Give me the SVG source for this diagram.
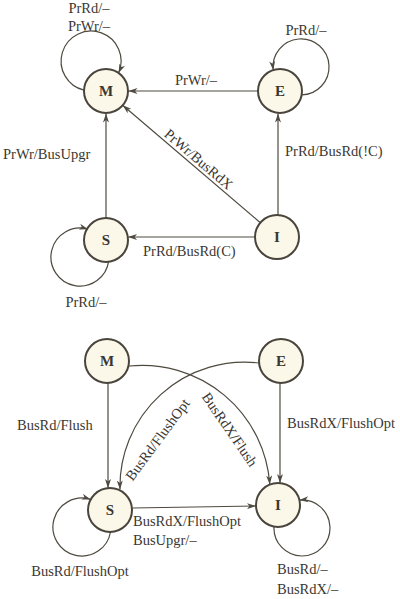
<svg xmlns="http://www.w3.org/2000/svg" width="400" height="599" viewBox="0 0 400 599">
<style>
.node circle{fill:#fbf8e9;stroke:#4a453c;stroke-width:2}
.node text{font-family:"Liberation Serif",serif;font-weight:bold;font-size:15px;fill:#3a3732;text-anchor:middle}
.edge{fill:none;stroke:#4f4a40;stroke-width:1.2;marker-end:url(#arr)}
.lbl{font-family:"Liberation Serif",serif;font-size:14.5px;fill:#3a3732}
.mid{text-anchor:middle}
</style>
<defs>
<marker id="arr" viewBox="0 0 9 6" refX="9" refY="3" markerWidth="9" markerHeight="6" markerUnits="userSpaceOnUse" orient="auto">
<path d="M0,0 L9,3 L0,6 L2.5,3 z" fill="#4f4a40"/>
</marker>
</defs>
<rect width="400" height="599" fill="#ffffff"/>
<g id="connectors">
<path class="edge" d="M258,91 L128.5,91"/>
<path class="edge" d="M106,218 L106,113.5"/>
<path class="edge" d="M260.3,222.7 L122.7,105.3"/>
<path class="edge" d="M278,215 L278,113.5"/>
<path class="edge" d="M255,237 L128,237"/>
<path class="edge" d="M84,90.2 A30,30 0 1 1 118.6,73"/>
<path class="edge" d="M301.6,94.9 A28,28 0 1 0 273.2,70.1"/>
<path class="edge" d="M108.7,260.8 A29,29 0 1 1 88.1,229.2"/>
<path class="edge" d="M108,383 L108,488.1"/>
<path class="edge" d="M280,383 L280,483.1"/>
<path class="edge" d="M132,508 L256,506"/>
<path class="edge" d="M129,366 A128,128 0 0 1 269.8,484.5"/>
<path class="edge" d="M259,363 A124.5,124.5 0 0 0 120,489.5"/>
<path class="edge" d="M110.5,532 A29,29 0 1 1 90.7,499.4"/>
<path class="edge" d="M274,526.5 A28,28 0 1 0 299.4,500.1"/>
</g>
<g id="labels">
<text class="lbl mid" x="89" y="13">PrRd/–</text>
<text class="lbl mid" x="89" y="31">PrWr/–</text>
<text class="lbl mid" x="196" y="85">PrWr/–</text>
<text class="lbl mid" x="306" y="35">PrRd/–</text>
<text class="lbl" x="3" y="159">PrWr/BusUpgr</text>
<text class="lbl" x="285" y="156">PrRd/BusRd(!C)</text>
<text class="lbl" x="143" y="256">PrRd/BusRd(C)</text>
<text class="lbl mid" x="86" y="307">PrRd/–</text>
<text class="lbl mid" transform="translate(195.4,163) rotate(40.5)">PrWr/BusRdX</text>
<text class="lbl" x="17" y="430">BusRd/Flush</text>
<text class="lbl" x="287" y="428">BusRdX/FlushOpt</text>
<text class="lbl" x="133" y="526">BusRdX/FlushOpt</text>
<text class="lbl" x="133" y="545">BusUpgr/–</text>
<text class="lbl mid" x="80" y="576">BusRd/FlushOpt</text>
<text class="lbl" x="277" y="574">BusRd/–</text>
<text class="lbl" x="277" y="594">BusRdX/–</text>
<text class="lbl mid" transform="translate(161.5,442.5) rotate(-53.5)">BusRd/FlushOpt</text>
<text class="lbl mid" transform="translate(225.7,432.3) rotate(55.4)">BusRdX/Flush</text>
</g>
<g id="node-M1" class="node"><circle cx="106" cy="91" r="22"/><text x="106" y="96">M</text></g>
<g id="node-E1" class="node"><circle cx="280" cy="91" r="22"/><text x="280" y="96">E</text></g>
<g id="node-S1" class="node"><circle cx="106" cy="240" r="22"/><text x="106" y="245">S</text></g>
<g id="node-I1" class="node"><circle cx="277" cy="237" r="22"/><text x="277" y="242">I</text></g>
<g id="node-M2" class="node"><circle cx="107" cy="361" r="22"/><text x="107" y="366">M</text></g>
<g id="node-E2" class="node"><circle cx="281" cy="361" r="22"/><text x="281" y="366">E</text></g>
<g id="node-S2" class="node"><circle cx="110" cy="510" r="22"/><text x="110" y="515">S</text></g>
<g id="node-I2" class="node"><circle cx="278" cy="505" r="22"/><text x="278" y="510">I</text></g>
</svg>
